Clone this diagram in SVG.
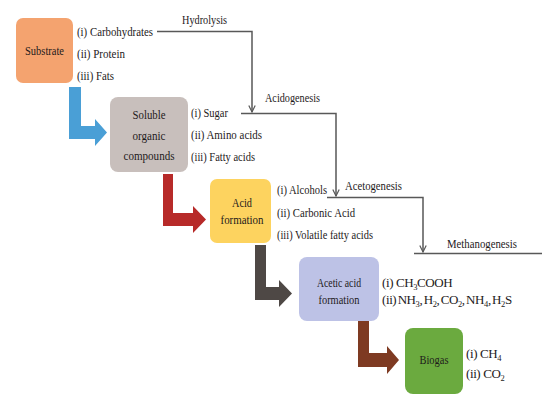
<svg xmlns="http://www.w3.org/2000/svg" width="542" height="397" viewBox="0 0 542 397">
<defs>
<style>
text{font-family:"Liberation Serif","Times New Roman",serif;font-size:13px;fill:#1e1a1b}
.c{text-anchor:middle}
.ln{fill:none;stroke:#585858;stroke-width:1.5}
.sub{font-size:8.5px}
</style>
<marker id="v" viewBox="0 0 10 10" refX="9" refY="5" markerWidth="8" markerHeight="8" markerUnits="userSpaceOnUse" orient="auto">
<path d="M1,1 L9,5 L1,9" fill="none" stroke="#585858" stroke-width="1.5"/>
</marker>
</defs>
<rect width="542" height="397" fill="#ffffff"/>

<g id="connectors">
<path class="ln" d="M157,31.5 H252 V112" marker-end="url(#v)"/>
<path class="ln" d="M241,113.5 H336 V196" marker-end="url(#v)"/>
<path class="ln" d="M327,197.5 H423 V252" marker-end="url(#v)"/>
<path class="ln" d="M414,253.5 H542"/>
<path d="M69,87 H81 V126 H95 V119 L107,132.5 L95,146 V139 H69 Z" fill="#4a9fd6"/>
<path d="M163,174 H173 V213 H193 V206 L206,219.5 L193,233 V226 H163 Z" fill="#b72a29"/>
<path d="M255,245 H266 V287 H279 V280 L292,293.5 L279,307 V300 H255 Z" fill="#4e4845"/>
<path d="M358,321 H369 V353 H387 V346 L399,360 L387,374 V367 H358 Z" fill="#7e3a22"/>
<text x="182" y="24" textLength="45" lengthAdjust="spacingAndGlyphs">Hydrolysis</text>
<text x="265" y="102" textLength="55" lengthAdjust="spacingAndGlyphs">Acidogenesis</text>
<text x="345" y="190" textLength="57" lengthAdjust="spacingAndGlyphs">Acetogenesis</text>
<text x="447" y="248" textLength="70" lengthAdjust="spacingAndGlyphs">Methanogenesis</text>
</g>

<g id="substrate">
<rect x="16" y="18" width="57" height="65" rx="7" fill="#f4a36f"/>
<text class="c" x="44.5" y="55" textLength="39" lengthAdjust="spacingAndGlyphs">Substrate</text>
<text x="77" y="35.5" textLength="76" lengthAdjust="spacingAndGlyphs">(i) Carbohydrates</text>
<text x="77" y="57.5" textLength="48" lengthAdjust="spacingAndGlyphs">(ii) Protein</text>
<text x="77" y="79.5" textLength="37" lengthAdjust="spacingAndGlyphs">(iii) Fats</text>
</g>

<g id="soluble">
<rect x="110" y="97" width="78" height="75" rx="8" fill="#c8bfbc"/>
<text class="c" x="149" y="119" textLength="33" lengthAdjust="spacingAndGlyphs">Soluble</text>
<text class="c" x="149" y="139.5" textLength="33" lengthAdjust="spacingAndGlyphs">organic</text>
<text class="c" x="149" y="160" textLength="51" lengthAdjust="spacingAndGlyphs">compounds</text>
<text x="191" y="116.5" textLength="37" lengthAdjust="spacingAndGlyphs">(i) Sugar</text>
<text x="191" y="138.5" textLength="71" lengthAdjust="spacingAndGlyphs">(ii) Amino acids</text>
<text x="191" y="160.5" textLength="64" lengthAdjust="spacingAndGlyphs">(iii) Fatty acids</text>
</g>

<g id="acid">
<rect x="210" y="179" width="61" height="64" rx="7" fill="#fdd35f"/>
<text class="c" x="242" y="207" textLength="20" lengthAdjust="spacingAndGlyphs">Acid</text>
<text class="c" x="242" y="224" textLength="43" lengthAdjust="spacingAndGlyphs">formation</text>
<text x="277" y="194" textLength="50" lengthAdjust="spacingAndGlyphs">(i) Alcohols</text>
<text x="277" y="216.5" textLength="78" lengthAdjust="spacingAndGlyphs">(ii) Carbonic Acid</text>
<text x="277" y="239" textLength="96" lengthAdjust="spacingAndGlyphs">(iii) Volatile fatty acids</text>
</g>

<g id="acetic">
<rect x="299" y="257" width="80" height="64" rx="8" fill="#bdc2e6"/>
<text class="c" x="339" y="287" textLength="44" lengthAdjust="spacingAndGlyphs">Acetic acid</text>
<text class="c" x="339" y="304" textLength="41" lengthAdjust="spacingAndGlyphs">formation</text>
<text x="382" y="287" font-size="12.5" letter-spacing="-0.4">(i) CH<tspan class="sub" dy="2.5">3</tspan><tspan dy="-2.5">COOH</tspan></text>
<text x="382" y="304" font-size="12.5" letter-spacing="-0.4" word-spacing="-1.5">(ii) NH<tspan class="sub" dy="2.5">3</tspan><tspan dy="-2.5">, H</tspan><tspan class="sub" dy="2.5">2</tspan><tspan dy="-2.5">, CO</tspan><tspan class="sub" dy="2.5">2</tspan><tspan dy="-2.5">, NH</tspan><tspan class="sub" dy="2.5">4</tspan><tspan dy="-2.5">, H</tspan><tspan class="sub" dy="2.5">2</tspan><tspan dy="-2.5">S</tspan></text>
</g>

<g id="biogas">
<rect x="405" y="328" width="58" height="66" rx="8" fill="#6baa3f"/>
<text class="c" x="434" y="364" textLength="29" lengthAdjust="spacingAndGlyphs">Biogas</text>
<text x="466" y="358" font-size="12.5" letter-spacing="-0.4">(i) CH<tspan class="sub" dy="2.5">4</tspan></text>
<text x="466" y="378" font-size="12.5" letter-spacing="-0.4">(ii) CO<tspan class="sub" dy="2.5">2</tspan></text>
</g>
</svg>
